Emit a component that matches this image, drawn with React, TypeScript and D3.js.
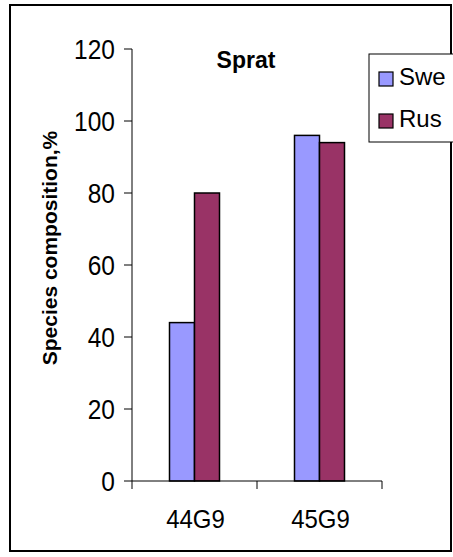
import * as d3 from 'd3'

const categories = ['44G9', '45G9']
const seriesNames = ['Swe', 'Rus']
const sweValues = [44, 96]
const rusValues = [80, 94]
const yTicks = [0, 20, 40, 60, 80, 100, 120]
const colors = ['#9999FF', '#993366']

const W = 453
const H = 557
const font = '"Liberation Sans", Arial, sans-serif'

export default function App() {
  const y = d3.scaleLinear().domain([0, 120]).range([481, 49])
  const x = d3.scaleBand().domain(categories).range([132, 382]).padding(0)
  const bw = x.bandwidth()
  // bars take up the middle 40% of each category slot
  const xs = d3.scaleBand().domain(seriesNames).range([bw * 0.3, bw * 0.7])
  const values = [sweValues, rusValues]

  return (
    <svg width={W} height={H} style={{ position: 'absolute', left: 0, top: 0, background: '#fff' }}
      fontFamily={font}>
      <rect x={10} y={5} width={441} height={546} fill="#fff" stroke="#000" strokeWidth={2} />

      {/* bars */}
      {seriesNames.map((s, si) => (
        <g key={s}>
          {categories.map((c, ci) => (
            <rect key={c}
              x={(x(c) ?? 0) + (xs(s) ?? 0)}
              y={y(values[si][ci])}
              width={xs.bandwidth()}
              height={y(0) - y(values[si][ci])}
              fill={colors[si]} stroke="#000" strokeWidth={1.5} />
          ))}
        </g>
      ))}

      {/* y axis */}
      <line x1={132} x2={132} y1={y(120)} y2={y(0)} stroke="#000" strokeWidth={1} />
      {yTicks.map(t => (
        <g key={t}>
          <line x1={124} x2={132} y1={y(t)} y2={y(t)} stroke="#000" />
          <text x={115} y={y(t)} dy="0.36em" textAnchor="end" fontSize={24.5}
            transform={`translate(0,${y(t)}) scale(1,1.1) translate(0,${-y(t)})`}>{t}</text>
        </g>
      ))}

      {/* x axis */}
      <line x1={132} x2={382} y1={y(0)} y2={y(0)} stroke="#000" />
      {categories.concat(['end']).map((c, i) => {
        const px = 132 + bw * i
        return <line key={c} x1={px} x2={px} y1={y(0)} y2={y(0) + 8} stroke="#000" />
      })}
      {categories.map(c => (
        <text key={c} x={(x(c) ?? 0) + bw / 2 + 1} y={528} textAnchor="middle" fontSize={24}
          transform={`translate(0,528) scale(1,1.1) translate(0,-528)`}>{c}</text>
      ))}

      <text x={246} y={68} textAnchor="middle" fontSize={23} fontWeight="bold">Sprat</text>

      <text transform="translate(57,248) rotate(-90)" textAnchor="middle" fontSize={21} fontWeight="bold">
        Species composition,%
      </text>

      {/* legend */}
      <rect x={369} y={54} width={90} height={88} fill="#fff" stroke="#000" strokeWidth={1} />
      {seriesNames.map((s, i) => (
        <g key={s} transform={`translate(379,${72 + i * 42})`}>
          <rect width={14} height={14} fill={colors[i]} stroke="#000" strokeWidth={1.2} />
          <text x={20} y={13} fontSize={24}>{s}</text>
        </g>
      ))}
    </svg>
  )
}
